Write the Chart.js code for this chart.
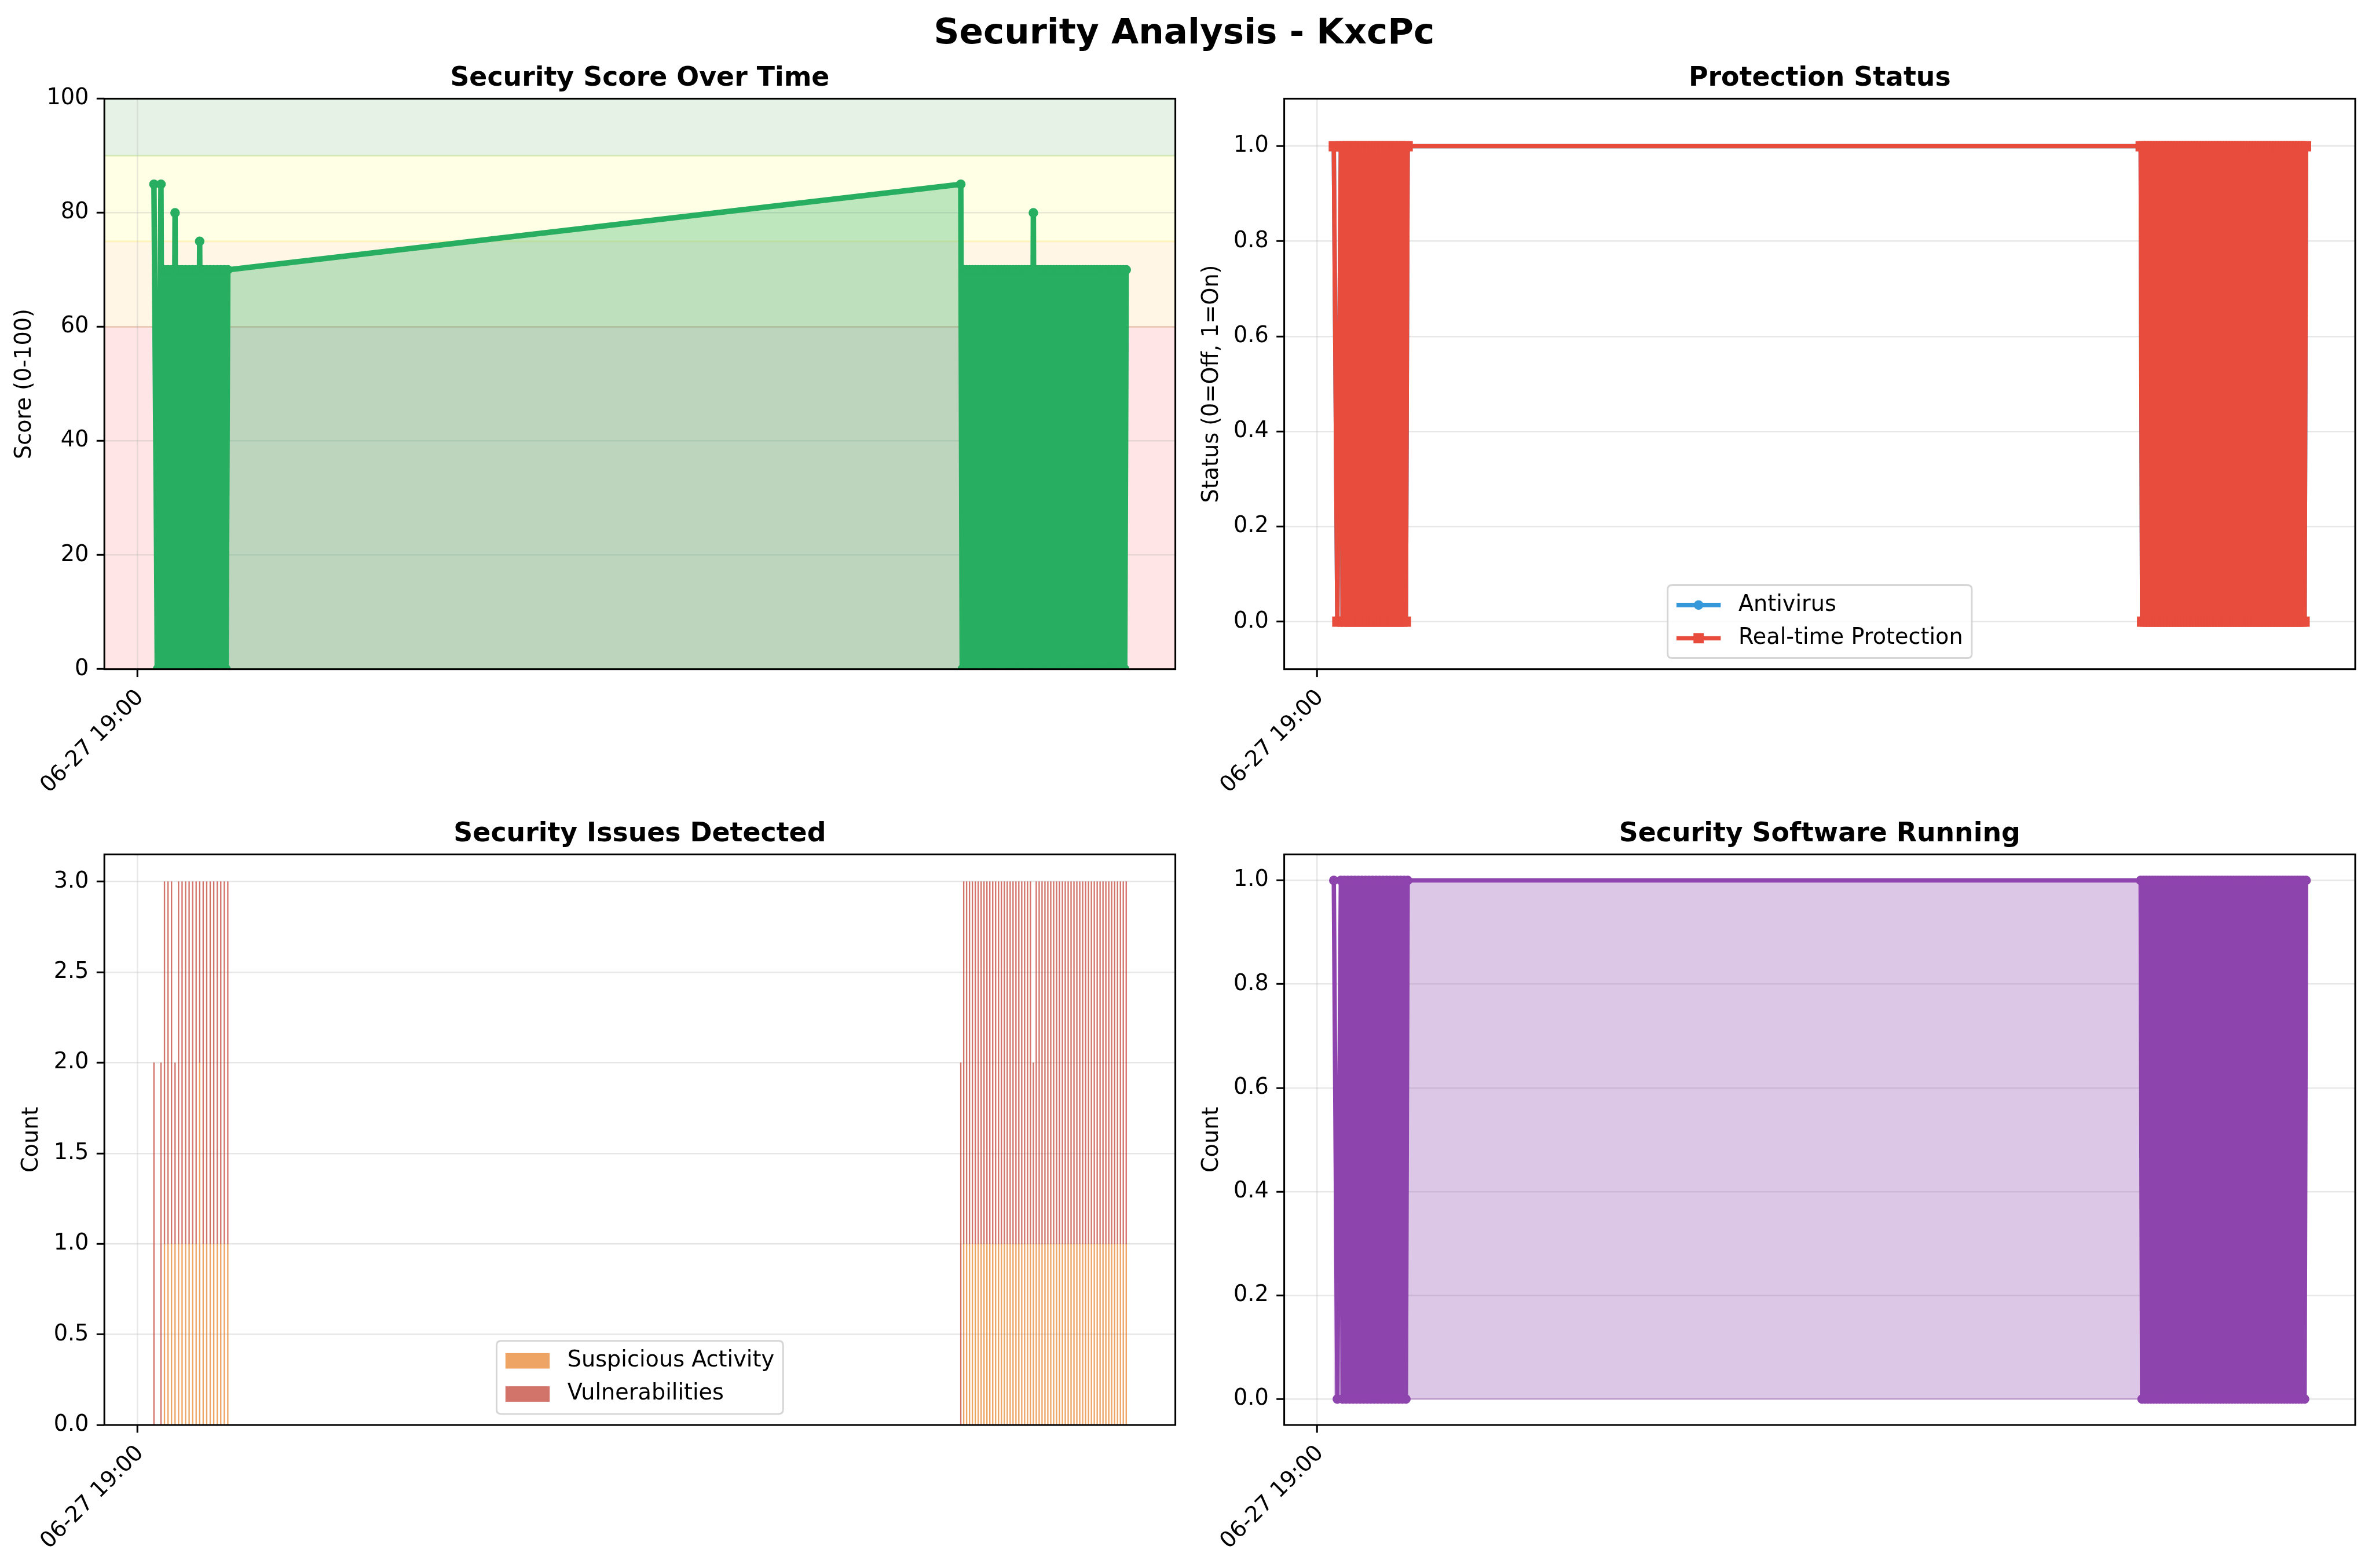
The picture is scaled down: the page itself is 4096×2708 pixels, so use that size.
<!DOCTYPE html>
<html>
<head>
<meta charset="utf-8">
<script src="https://cdn.jsdelivr.net/npm/chart.js"></script>
<style>
html, body { margin: 0; padding: 0; background: #ffffff; width: 4096px; height: 2708px; overflow: hidden; }
canvas { position: absolute; }
#sup { position: absolute; left: 0; top: 22.8px; width: 4089.8px; text-align: center;
       font: bold 61.1px "DejaVu Sans", sans-serif; line-height: 61.1px; color: #000; white-space: nowrap; }
</style>
</head>
<body>
<div id="sup">Security Analysis - KxcPc</div>
<canvas id="cScore" width="2060" height="1420" style="left:0px;top:0px;width:2060px;height:1420px"></canvas>
<canvas id="cProt" width="2036" height="1420" style="left:2060px;top:0px;width:2036px;height:1420px"></canvas>
<canvas id="cIssues" width="2060" height="1418" style="left:0px;top:1290px;width:2060px;height:1418px"></canvas>
<canvas id="cSoft" width="2036" height="1418" style="left:2060px;top:1290px;width:2036px;height:1418px"></canvas>
<script>
// ---------------- DATA ----------------
// minutes after 06-27 19:00 for each log record
const minutesAfter1900 = [
  4.7, 5.7, 6.7, 7.2, 7.7, 8.2, 8.7, 9.2, 9.7, 10.2,
  10.7, 11.2, 11.7, 12.2, 12.7, 13.2, 13.7, 14.2, 14.7, 15.2,
  15.7, 16.2, 16.7, 17.2, 17.7, 18.2, 18.7, 19.2, 19.7, 20.2,
  20.7, 21.2, 21.7, 22.2, 22.7, 23.2, 23.7, 24.2, 24.7, 25.2,
  25.7,
  234.10, 234.51, 234.93, 235.34, 235.75, 236.16, 236.58, 236.99, 237.40, 237.81,
  238.23, 238.64, 239.05, 239.46, 239.88, 240.29, 240.70, 241.11, 241.53, 241.94,
  242.35, 242.76, 243.18, 243.59, 244.00, 244.41, 244.83, 245.24, 245.65, 246.06,
  246.48, 246.89, 247.30, 247.71, 248.13, 248.54, 248.95, 249.36, 249.78, 250.19,
  250.60, 251.01, 251.43, 251.84, 252.25, 252.66, 253.08, 253.49, 253.90, 254.31,
  254.73, 255.14, 255.55, 255.96, 256.38, 256.79, 257.20, 257.61, 258.03, 258.44,
  258.85, 259.26, 259.68, 260.09, 260.50, 260.91, 261.33, 261.74, 262.15, 262.56,
  262.98, 263.39, 263.80, 264.21, 264.63, 265.04, 265.45, 265.86, 266.28, 266.69,
  267.10, 267.51, 267.93, 268.34, 268.75, 269.16, 269.58, 269.99, 270.40, 270.81,
  271.23, 271.64, 272.05, 272.46, 272.88, 273.29, 273.70, 274.11, 274.53, 274.94,
  275.35, 275.76, 276.18, 276.59, 277.00, 277.41, 277.83, 278.24, 278.65, 279.06,
  279.48, 279.89, 280.30, 280.71, 281.13
];

const securityScore = [
  85,0,85,0,70,0,70,0,70,0,
  80,0,70,0,70,0,70,0,70,0,
  70,0,70,0,75,0,70,0,70,0,
  70,0,70,0,70,0,70,0,70,0,
  70,
  85,0,70,0,70,0,70,0,70,0,
  70,0,70,0,70,0,70,0,70,0,
  70,0,70,0,70,0,70,0,70,0,
  70,0,70,0,70,0,70,0,70,0,
  70,0,70,0,70,0,70,0,70,0,
  80,0,70,0,70,0,70,0,70,0,
  70,0,70,0,70,0,70,0,70,0,
  70,0,70,0,70,0,70,0,70,0,
  70,0,70,0,70,0,70,0,70,0,
  70,0,70,0,70,0,70,0,70,0,
  70,0,70,0,70,0,70,0,70,0,
  70,0,70,0,70
];

const antivirusOn = [
  1,0,1,0,1,0,1,0,1,0,
  1,0,1,0,1,0,1,0,1,0,
  1,0,1,0,1,0,1,0,1,0,
  1,0,1,0,1,0,1,0,1,0,
  1,
  1,0,1,0,1,0,1,0,1,0,
  1,0,1,0,1,0,1,0,1,0,
  1,0,1,0,1,0,1,0,1,0,
  1,0,1,0,1,0,1,0,1,0,
  1,0,1,0,1,0,1,0,1,0,
  1,0,1,0,1,0,1,0,1,0,
  1,0,1,0,1,0,1,0,1,0,
  1,0,1,0,1,0,1,0,1,0,
  1,0,1,0,1,0,1,0,1,0,
  1,0,1,0,1,0,1,0,1,0,
  1,0,1,0,1,0,1,0,1,0,
  1,0,1,0,1
];

const realtimeOn = [
  1,0,1,0,1,0,1,0,1,0,
  1,0,1,0,1,0,1,0,1,0,
  1,0,1,0,1,0,1,0,1,0,
  1,0,1,0,1,0,1,0,1,0,
  1,
  1,0,1,0,1,0,1,0,1,0,
  1,0,1,0,1,0,1,0,1,0,
  1,0,1,0,1,0,1,0,1,0,
  1,0,1,0,1,0,1,0,1,0,
  1,0,1,0,1,0,1,0,1,0,
  1,0,1,0,1,0,1,0,1,0,
  1,0,1,0,1,0,1,0,1,0,
  1,0,1,0,1,0,1,0,1,0,
  1,0,1,0,1,0,1,0,1,0,
  1,0,1,0,1,0,1,0,1,0,
  1,0,1,0,1,0,1,0,1,0,
  1,0,1,0,1
];

const softwareRunning = [
  1,0,1,0,1,0,1,0,1,0,
  1,0,1,0,1,0,1,0,1,0,
  1,0,1,0,1,0,1,0,1,0,
  1,0,1,0,1,0,1,0,1,0,
  1,
  1,0,1,0,1,0,1,0,1,0,
  1,0,1,0,1,0,1,0,1,0,
  1,0,1,0,1,0,1,0,1,0,
  1,0,1,0,1,0,1,0,1,0,
  1,0,1,0,1,0,1,0,1,0,
  1,0,1,0,1,0,1,0,1,0,
  1,0,1,0,1,0,1,0,1,0,
  1,0,1,0,1,0,1,0,1,0,
  1,0,1,0,1,0,1,0,1,0,
  1,0,1,0,1,0,1,0,1,0,
  1,0,1,0,1,0,1,0,1,0,
  1,0,1,0,1
];

const suspiciousActivity = [
  0,0,0,0,1,0,1,0,1,0,
  1,0,1,0,1,0,1,0,1,0,
  1,0,1,0,2,0,1,0,1,0,
  1,0,1,0,1,0,1,0,1,0,
  1,
  0,0,1,0,1,0,1,0,1,0,
  1,0,1,0,1,0,1,0,1,0,
  1,0,1,0,1,0,1,0,1,0,
  1,0,1,0,1,0,1,0,1,0,
  1,0,1,0,1,0,1,0,1,0,
  1,0,1,0,1,0,1,0,1,0,
  1,0,1,0,1,0,1,0,1,0,
  1,0,1,0,1,0,1,0,1,0,
  1,0,1,0,1,0,1,0,1,0,
  1,0,1,0,1,0,1,0,1,0,
  1,0,1,0,1,0,1,0,1,0,
  1,0,1,0,1
];

const vulnerabilities = [
  2,0,2,0,2,0,2,0,2,0,
  1,0,2,0,2,0,2,0,2,0,
  2,0,2,0,1,0,2,0,2,0,
  2,0,2,0,2,0,2,0,2,0,
  2,
  2,0,2,0,2,0,2,0,2,0,
  2,0,2,0,2,0,2,0,2,0,
  2,0,2,0,2,0,2,0,2,0,
  2,0,2,0,2,0,2,0,2,0,
  2,0,2,0,2,0,2,0,2,0,
  1,0,2,0,2,0,2,0,2,0,
  2,0,2,0,2,0,2,0,2,0,
  2,0,2,0,2,0,2,0,2,0,
  2,0,2,0,2,0,2,0,2,0,
  2,0,2,0,2,0,2,0,2,0,
  2,0,2,0,2,0,2,0,2,0,
  2,0,2,0,2
];

const xTickValues = [0];
const xTickLabels = ['06-27 19:00'];
const scoreTicks = [0, 20, 40, 60, 80, 100];
const statusTicks = [0, 0.2, 0.4, 0.6, 0.8, 1.0];
const countTicks = [0, 0.5, 1, 1.5, 2, 2.5, 3];
const scoreBandEdges = [0, 60, 75, 90, 100];
const scoreBandColors = ['255,0,0', '255,165,0', '255,255,0', '0,128,0'];

[securityScore, antivirusOn, realtimeOn, softwareRunning, suspiciousActivity, vulnerabilities].forEach((a, i) => {
  if (a.length !== minutesAfter1900.length) throw new Error('length mismatch ' + i + ': ' + a.length + ' vs ' + minutesAfter1900.length);
});

// ---------------- STYLE ----------------
const FS = 38.2, XFS = 38.2, TFS = 45.8;
const TICK_LEN = 13.4, TICK_PAD = 13.4, TICK_W = 3, GRID_W = 2.5, SPINE_W = 3, TITLE_GAP = 22.9;
const GRID = 'rgba(176,176,176,0.3)';
const XAXIS_H = 240;
const X_MIN = -9.4, X_MAX = 295.1;
const GREEN = '#27ae60', BLUE = '#3498db', RED = '#e74c3c', PURPLE = '#8e44ad';

Chart.defaults.font.family = '"DejaVu Sans", sans-serif';
Chart.defaults.font.size = FS;
Chart.defaults.color = '#000';

const pts = (ys) => minutesAfter1900.map((t, i) => ({ x: t, y: ys[i] }));

function gridOpts() {
  return { display: true, offset: false, color: GRID, lineWidth: GRID_W, drawOnChartArea: true,
           drawTicks: true, tickLength: TICK_LEN, tickWidth: TICK_W, tickColor: '#000' };
}
function axisX(stacked) {
  return {
    type: 'linear', min: X_MIN, max: X_MAX, offset: false, stacked: !!stacked,
    afterBuildTicks: s => { s.ticks = xTickValues.map(v => ({ value: v })); },
    afterFit: s => { s.height = XAXIS_H; s.paddingLeft = 0; s.paddingRight = 0; },
    ticks: { autoSkip: false, minRotation: 45, maxRotation: 45, padding: TICK_PAD, labelOffset: 5, color: '#000',
             font: { size: XFS }, callback: (v, i) => xTickLabels[i] },
    grid: gridOpts(),
    border: { display: false }
  };
}
function axisY(o) {
  return {
    type: 'linear', min: o.min, max: o.max, stacked: !!o.stacked,
    afterBuildTicks: s => { s.ticks = o.ticks.map(v => ({ value: v })); },
    afterFit: s => { s.width = o.width; s.paddingTop = 0; s.paddingBottom = 0; },
    ticks: { autoSkip: false, padding: TICK_PAD, color: '#000', font: { size: FS }, callback: v => o.fmt(v) },
    grid: gridOpts(),
    border: { display: false },
    title: { display: true, text: o.title, color: '#000', font: { size: FS }, padding: { top: o.titlePad, bottom: 0 } }
  };
}

// ---------------- PLUGINS ----------------
const framePlugin = {
  id: 'frame',
  afterDatasetsDraw(chart) {
    const { ctx, chartArea: ca } = chart;
    ctx.save();
    ctx.strokeStyle = '#000'; ctx.lineWidth = SPINE_W;
    ctx.strokeRect(ca.left, ca.top, ca.right - ca.left, ca.bottom - ca.top);
    ctx.restore();
  }
};
function titlePlugin(text) {
  return {
    id: 'subTitle',
    afterDraw(chart) {
      const { ctx, chartArea: ca } = chart;
      ctx.save();
      ctx.font = 'bold ' + TFS + 'px "DejaVu Sans", sans-serif';
      ctx.fillStyle = '#000'; ctx.textAlign = 'center'; ctx.textBaseline = 'alphabetic';
      ctx.fillText(text, (ca.left + ca.right) / 2, ca.top - TITLE_GAP);
      ctx.restore();
    }
  };
}
// outline of the filled area along the baseline (like a fill_between edge)
function fillEdgePlugin(color) {
  return {
    id: 'fillEdge',
    beforeDatasetsDraw(chart) {
      const { ctx, chartArea: ca } = chart;
      const xs = chart.scales.x, ys = chart.scales.y;
      const x0 = xs.getPixelForValue(Math.min(...minutesAfter1900));
      const x1 = xs.getPixelForValue(Math.max(...minutesAfter1900));
      const y0 = ys.getPixelForValue(0);
      ctx.save();
      ctx.beginPath(); ctx.rect(ca.left, ca.top, ca.right - ca.left, ca.bottom - ca.top); ctx.clip();
      ctx.strokeStyle = color; ctx.lineWidth = 3;
      ctx.beginPath(); ctx.moveTo(x0, y0); ctx.lineTo(x1, y0); ctx.stroke();
      ctx.restore();
    }
  };
}
const bandsPlugin = {
  id: 'bands',
  beforeDraw(chart) {
    const { ctx, chartArea: ca } = chart;
    const y = chart.scales.y;
    ctx.save();
    ctx.beginPath(); ctx.rect(ca.left, ca.top, ca.right - ca.left, ca.bottom - ca.top); ctx.clip();
    for (let i = 0; i < scoreBandColors.length; i++) {
      const yTop = y.getPixelForValue(scoreBandEdges[i + 1]);
      const yBot = y.getPixelForValue(scoreBandEdges[i]);
      const c = 'rgba(' + scoreBandColors[i] + ',0.1)';
      ctx.fillStyle = c;
      ctx.fillRect(ca.left, yTop, ca.right - ca.left, yBot - yTop);
      ctx.strokeStyle = c; ctx.lineWidth = 3;
      ctx.beginPath();
      ctx.moveTo(ca.left, yTop); ctx.lineTo(ca.right, yTop);
      ctx.moveTo(ca.left, yBot); ctx.lineTo(ca.right, yBot);
      ctx.stroke();
    }
    ctx.restore();
  }
};
function roundRectPath(ctx, x, y, w, h, r) {
  ctx.beginPath();
  ctx.moveTo(x + r, y); ctx.lineTo(x + w - r, y); ctx.quadraticCurveTo(x + w, y, x + w, y + r);
  ctx.lineTo(x + w, y + h - r); ctx.quadraticCurveTo(x + w, y + h, x + w - r, y + h);
  ctx.lineTo(x + r, y + h); ctx.quadraticCurveTo(x, y + h, x, y + h - r);
  ctx.lineTo(x, y + r); ctx.quadraticCurveTo(x, y, x + r, y);
  ctx.closePath();
}
function legendPlugin(kind) {
  return {
    id: 'boxLegend',
    afterDraw(chart) {
      const { ctx, chartArea: ca } = chart;
      const em = FS;
      const dss = chart.data.datasets;
      ctx.save();
      ctx.font = FS + 'px "DejaVu Sans", sans-serif';
      const tw = Math.max(...dss.map(d => ctx.measureText(d.label).width));
      const pad = 0.4 * em, hl = 2 * em, htp = 0.8 * em, ls = 0.5 * em, rowH = em;
      const w = 2 * pad + hl + htp + tw;
      const h = 2 * pad + dss.length * rowH + (dss.length - 1) * ls;
      const x0 = (ca.left + ca.right) / 2 - w / 2;
      const y0 = ca.bottom - 0.5 * em - h;
      roundRectPath(ctx, x0, y0, w, h, 0.2 * em);
      ctx.fillStyle = 'rgba(255,255,255,0.8)'; ctx.fill();
      ctx.strokeStyle = 'rgba(204,204,204,0.8)'; ctx.lineWidth = 3; ctx.stroke();
      dss.forEach((d, i) => {
        const cy = y0 + pad + rowH / 2 + i * (rowH + ls);
        const hx0 = x0 + pad, hx1 = hx0 + hl, hcx = (hx0 + hx1) / 2;
        if (kind === 'line') {
          ctx.strokeStyle = d.borderColor; ctx.lineWidth = d.borderWidth; ctx.lineCap = 'butt';
          ctx.beginPath(); ctx.moveTo(hx0, cy); ctx.lineTo(hx1, cy); ctx.stroke();
          ctx.fillStyle = d.borderColor;
          if (d.pointStyle === 'rect') {
            const s = Math.SQRT1_2 * d.pointRadius + d.pointBorderWidth / 2;
            ctx.fillRect(hcx - s, cy - s, 2 * s, 2 * s);
          } else {
            ctx.beginPath(); ctx.arc(hcx, cy, d.pointRadius + d.pointBorderWidth / 2, 0, Math.PI * 2); ctx.fill();
          }
        } else {
          ctx.fillStyle = d.backgroundColor;
          ctx.fillRect(hx0, cy - 0.35 * em, hl, 0.7 * em);
        }
        ctx.fillStyle = '#000'; ctx.textAlign = 'left'; ctx.textBaseline = 'middle';
        ctx.fillText(d.label, hx1 + htp, cy);
      });
      ctx.restore();
    }
  };
}

const baseOpts = (pad) => ({
  responsive: false, devicePixelRatio: 1, animation: false, events: [],
  layout: { padding: pad },
  plugins: { legend: { display: false }, title: { display: false }, tooltip: { enabled: false } }
});

const lineStyle = (color, width, style, radius) => ({
  borderColor: color, backgroundColor: color, borderWidth: width, tension: 0,
  borderJoinStyle: 'round', borderCapStyle: 'butt',
  pointStyle: style, pointRadius: radius, pointBorderWidth: 1.5,
  pointBackgroundColor: color, pointBorderColor: color
});

const TOP_PAD_BOTTOM = 1420 - 1155.7 - XAXIS_H;
const BOT_PAD_BOTTOM = 1418 - 1171 - XAXIS_H;

// ---------------- CHART 1: Security Score ----------------
new Chart(document.getElementById('cScore'), {
  type: 'line',
  data: { datasets: [Object.assign({ label: 'Security Score', data: pts(securityScore) },
    lineStyle(GREEN, 9.5, 'circle', 7.5), { fill: 'origin', backgroundColor: 'rgba(39,174,96,0.3)' })] },
  options: Object.assign(baseOpts({ left: 0, top: 170.4, right: 30.4, bottom: TOP_PAD_BOTTOM }), {
    scales: {
      x: axisX(false),
      y: axisY({ min: 0, max: 100, ticks: scoreTicks, fmt: v => String(v), width: 180.2, titlePad: 20.1, title: 'Score (0-100)' })
    }
  }),
  plugins: [bandsPlugin, framePlugin, titlePlugin('Security Score Over Time')]
});

// ---------------- CHART 2: Protection Status ----------------
new Chart(document.getElementById('cProt'), {
  type: 'line',
  data: { datasets: [
    Object.assign({ label: 'Antivirus', data: pts(antivirusOn), order: 2 }, lineStyle(BLUE, 7.6, 'circle', 7.5)),
    Object.assign({ label: 'Real-time Protection', data: pts(realtimeOn), order: 1 }, lineStyle(RED, 7.6, 'rect', 11.5))
  ] },
  options: Object.assign(baseOpts({ left: 0, top: 170.4, right: 29, bottom: TOP_PAD_BOTTOM }), {
    scales: {
      x: axisX(false),
      y: axisY({ min: -0.1, max: 1.1, ticks: statusTicks, fmt: v => v.toFixed(1), width: 157.6, titlePad: 9.7, title: 'Status (0=Off, 1=On)' })
    }
  }),
  plugins: [framePlugin, titlePlugin('Protection Status'), legendPlugin('line')]
});

// ---------------- CHART 3: Security Issues ----------------
new Chart(document.getElementById('cIssues'), {
  type: 'bar',
  data: { datasets: [
    { label: 'Suspicious Activity', data: pts(suspiciousActivity), backgroundColor: 'rgba(230,126,34,0.7)', borderWidth: 0, barThickness: 1.7 },
    { label: 'Vulnerabilities', data: pts(vulnerabilities), backgroundColor: 'rgba(192,57,43,0.7)', borderWidth: 0, barThickness: 1.7 }
  ] },
  options: Object.assign(baseOpts({ left: 0, top: 185.7, right: 30.4, bottom: BOT_PAD_BOTTOM }), {
    scales: {
      x: axisX(true),
      y: axisY({ min: 0, max: 3.15, stacked: true, ticks: countTicks, fmt: v => v.toFixed(1), width: 180.2, titlePad: 32.2, title: 'Count' })
    }
  }),
  plugins: [framePlugin, titlePlugin('Security Issues Detected'), legendPlugin('patch')]
});

// ---------------- CHART 4: Security Software ----------------
new Chart(document.getElementById('cSoft'), {
  type: 'line',
  data: { datasets: [Object.assign({ label: 'Security Software', data: pts(softwareRunning) },
    lineStyle(PURPLE, 7.6, 'circle', 7.5), { fill: 'origin', backgroundColor: 'rgba(142,68,173,0.3)' })] },
  options: Object.assign(baseOpts({ left: 0, top: 185.7, right: 29, bottom: BOT_PAD_BOTTOM }), {
    scales: {
      x: axisX(false),
      y: axisY({ min: -0.05, max: 1.05, ticks: statusTicks, fmt: v => v.toFixed(1), width: 157.6, titlePad: 9.7, title: 'Count' })
    }
  }),
  plugins: [fillEdgePlugin('rgba(142,68,173,0.3)'), framePlugin, titlePlugin('Security Software Running')]
});
</script>
</body>
</html>
